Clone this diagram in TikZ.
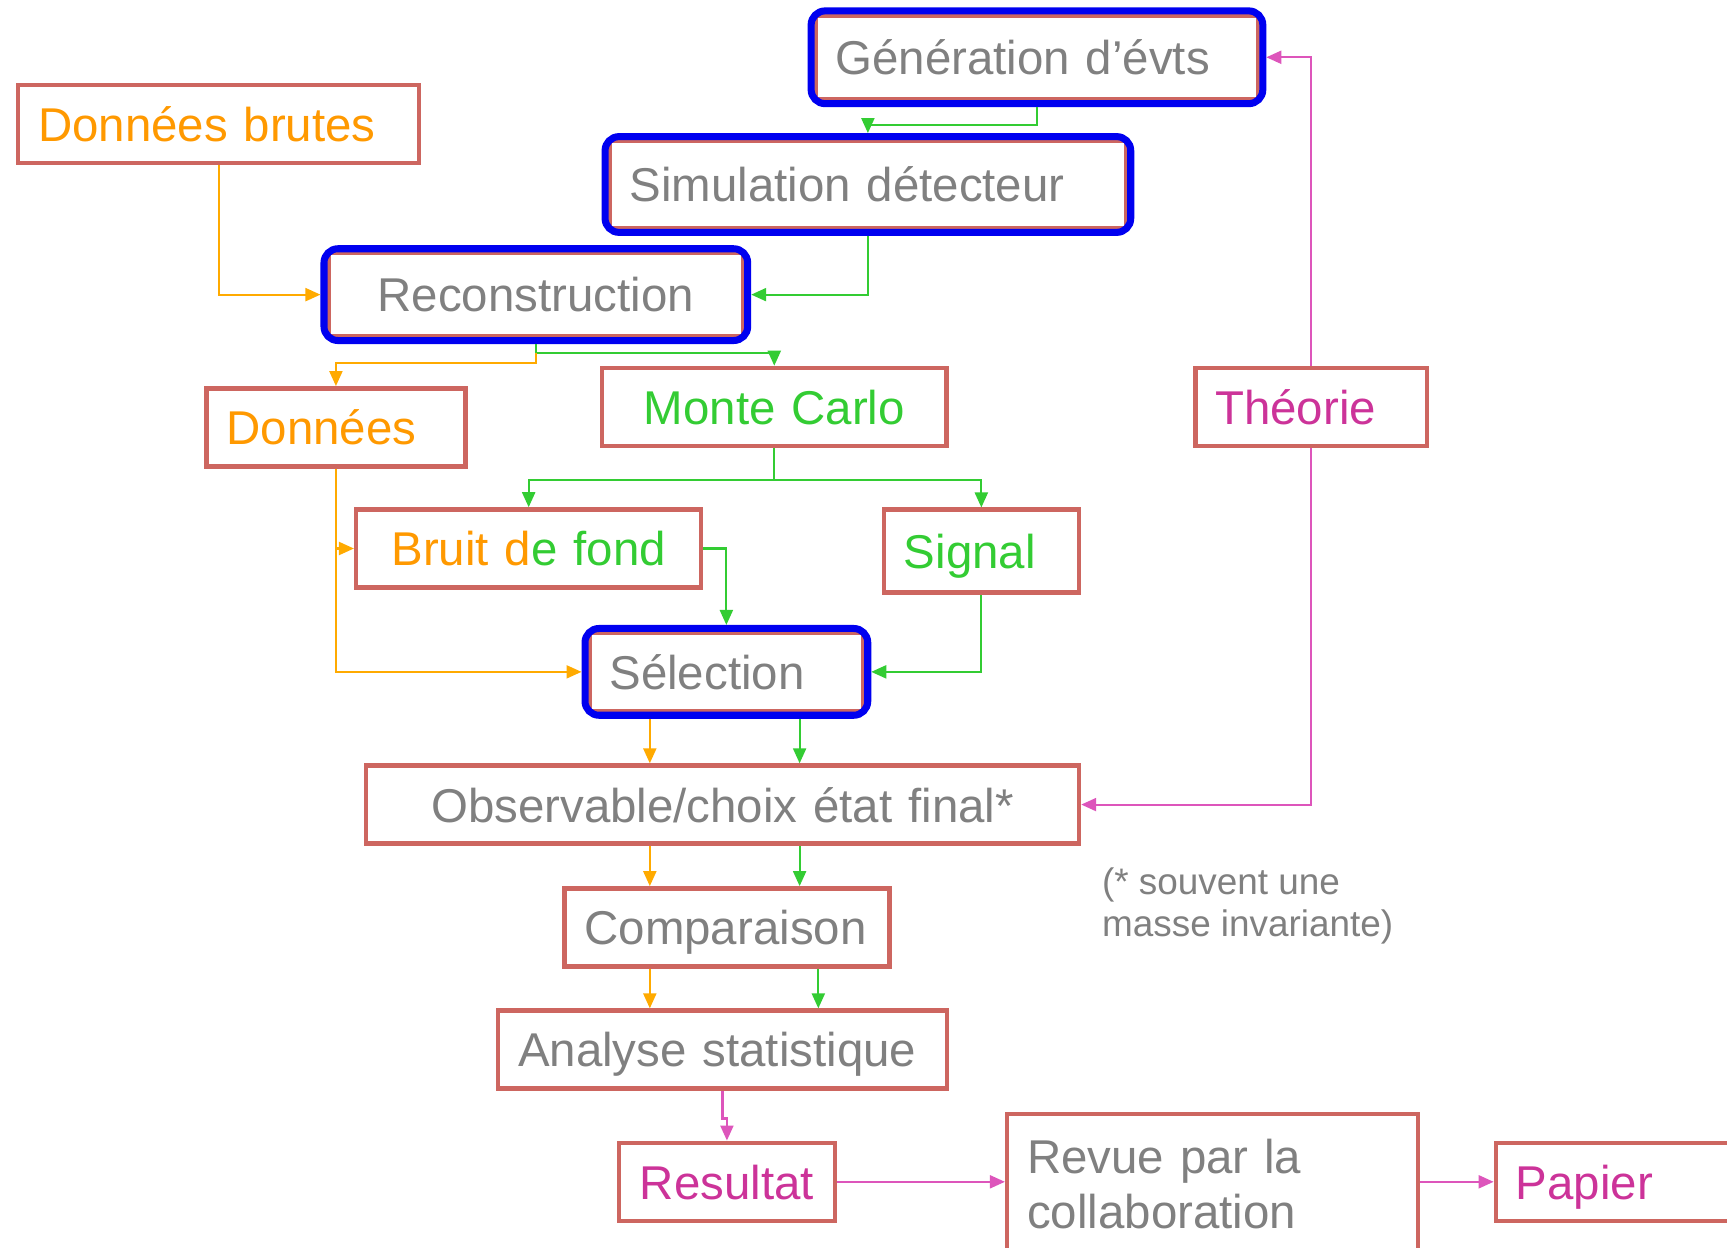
\documentclass[tikz,border=0pt]{standalone}
\usepackage{fontspec}
\setmainfont{Liberation Sans}
\usetikzlibrary{arrows.meta,positioning,fit}

\definecolor{boxred}{HTML}{CD6660}
\definecolor{hlblue}{HTML}{0000F0}
\definecolor{txtgray}{HTML}{808080}
\definecolor{txtorange}{HTML}{FF9900}
\definecolor{txtgreen}{HTML}{33CC33}
\definecolor{txtpink}{HTML}{CC3399}
\definecolor{lnorange}{HTML}{FFAA00}
\definecolor{lngreen}{HTML}{33CC33}
\definecolor{lnpink}{HTML}{DD55BB}

\tikzset{
  box/.style={draw=boxred, line width=1.3pt, fill=white, inner xsep=0.2cm, inner ysep=0pt,
    minimum height=0.78cm, align=left, text depth=0pt, font=\fontsize{13.5}{15.6}\selectfont},
  hl/.style={draw=hlblue, line width=2pt, rounded corners=1.4mm, inner sep=0.6pt},
  note/.style={text=txtgray, inner sep=0pt, align=left, font=\fontsize{10.5}{12}\selectfont},
  oline/.style={draw=lnorange, line width=0.6pt, -{Triangle[length=1.5mm,width=1.3mm]}},
  gline/.style={draw=lngreen, line width=0.6pt, -{Triangle[length=1.5mm,width=1.3mm]}},
  pline/.style={draw=lnpink, line width=0.6pt, -{Triangle[length=1.5mm,width=1.3mm]}}
}

\begin{document}
\begin{tikzpicture}[x=0.011014cm, y=-0.011014cm]
\fill[white] (0,0) rectangle (1568,1133);
\useasboundingbox (0,0) rectangle (1568,1133);

% boxes
\node[box, text=txtgray, text width=4.03cm, minimum height=0.84cm] (gen) at (941.5,52) {Génération d’évts};
\node[box, text=txtgray, text width=4.77cm, minimum height=0.87cm] (sim) at (788,167.5) {Simulation détecteur};
\node[box, text=txtgray, text width=3.75cm, minimum height=0.83cm, align=center] (reco) at (486.5,267.5) {Reconstruction};
\node[box, text=txtorange, text width=3.61cm] (brutes) at (198.5,112.5) {Données brutes};
\node[box, text=txtorange, text width=2.19cm] (donnees) at (305,388) {Données};
\node[box, text=txtgreen, text width=3.05cm, align=center] (mc) at (703,369.5) {Monte Carlo};
\node[box, text=txtpink, text width=1.92cm] (theo) at (1190.5,369.5) {Théorie};
\node[box, text width=3.05cm, align=center] (bruit) at (480,498) {{\color{txtorange}Bruit d}{\color{txtgreen}e fond}};
\node[box, text=txtgreen, text width=1.55cm, minimum height=0.83cm] (signal) at (891,500.5) {Signal};
\node[box, text=txtgray, text width=2.34cm] (sel) at (659.5,610) {Sélection};
\node[box, text=txtgray, text width=6.73cm, align=center] (obs) at (656,730.5) {Observable/choix état final*};
\node[box, text=txtgray, text width=2.85cm] (comp) at (660,842) {Comparaison};
\node[box, text=txtgray, text width=4.09cm] (ana) at (656,953) {Analyse statistique};
\node[box, text=txtpink, text width=1.76cm, align=center] (res) at (660,1073) {Resultat};
\node[box, text=txtgray, text width=3.71cm, minimum height=1.40cm, text depth=0.55cm] (revue) at (1101,1075) {Revue par la\\collaboration};
\node[box, text=txtpink, text width=2.24cm] (papier) at (1478,1073) {Papier};
\node[note, anchor=north west] (note) at (1000,787) {(* souvent une\\masse invariante)};

% blue frames
\node[hl, fit=(gen)] (gen-hl) {};
\node[hl, fit=(sim)] (sim-hl) {};
\node[hl, fit=(reco)] (reco-hl) {};
\node[hl, fit=(sel)] (sel-hl) {};

% connectors
\draw[gline] (gen-hl.south) -- ++(0,16) -| (sim-hl.north);
\draw[gline] (sim-hl.south) |- (reco-hl.east);
\draw[oline] (brutes.south) |- (reco-hl.west);
\draw[gline] (reco-hl.south) -- ++(0,8) -| (mc.north);
\draw[oline] ([yshift=-0.9mm]reco-hl.south) -- ++(0,9) -| (donnees.north);
\draw[gline] (mc.south) -- ++(0,29) -| (bruit.north);
\draw[gline] (mc.south) -- ++(0,29) -| (signal.north);
\draw[oline] (donnees.south) |- (sel-hl.west);
\draw[oline] (donnees.south |- bruit.west) -- (bruit.west);
\draw[gline] (bruit.east) -| (sel-hl.north);
\draw[gline] (signal.south) |- (sel-hl.east);

\coordinate (ocol) at (590,0);
\coordinate (gcol) at (726,0);
\coordinate (gcolb) at (743,0);
\draw[oline] (sel-hl.south -| ocol) -- (obs.north -| ocol);
\draw[gline] (sel-hl.south -| gcol) -- (obs.north -| gcol);
\draw[oline] (obs.south -| ocol) -- (comp.north -| ocol);
\draw[gline] (obs.south -| gcol) -- (comp.north -| gcol);
\draw[oline] (comp.south -| ocol) -- (ana.north -| ocol);
\draw[gline] (comp.south -| gcolb) -- (ana.north -| gcolb);
\draw[pline] (ana.south) -- ++(0,25) -| (res.north);
\draw[pline] (res.east) -- (res.east -| revue.west);
\draw[pline] (revue.east |- papier.west) -- (papier.west);
\draw[pline] (theo.north) |- (gen-hl.east);
\draw[pline] (theo.south) |- (obs.east);
\end{tikzpicture}
\end{document}
